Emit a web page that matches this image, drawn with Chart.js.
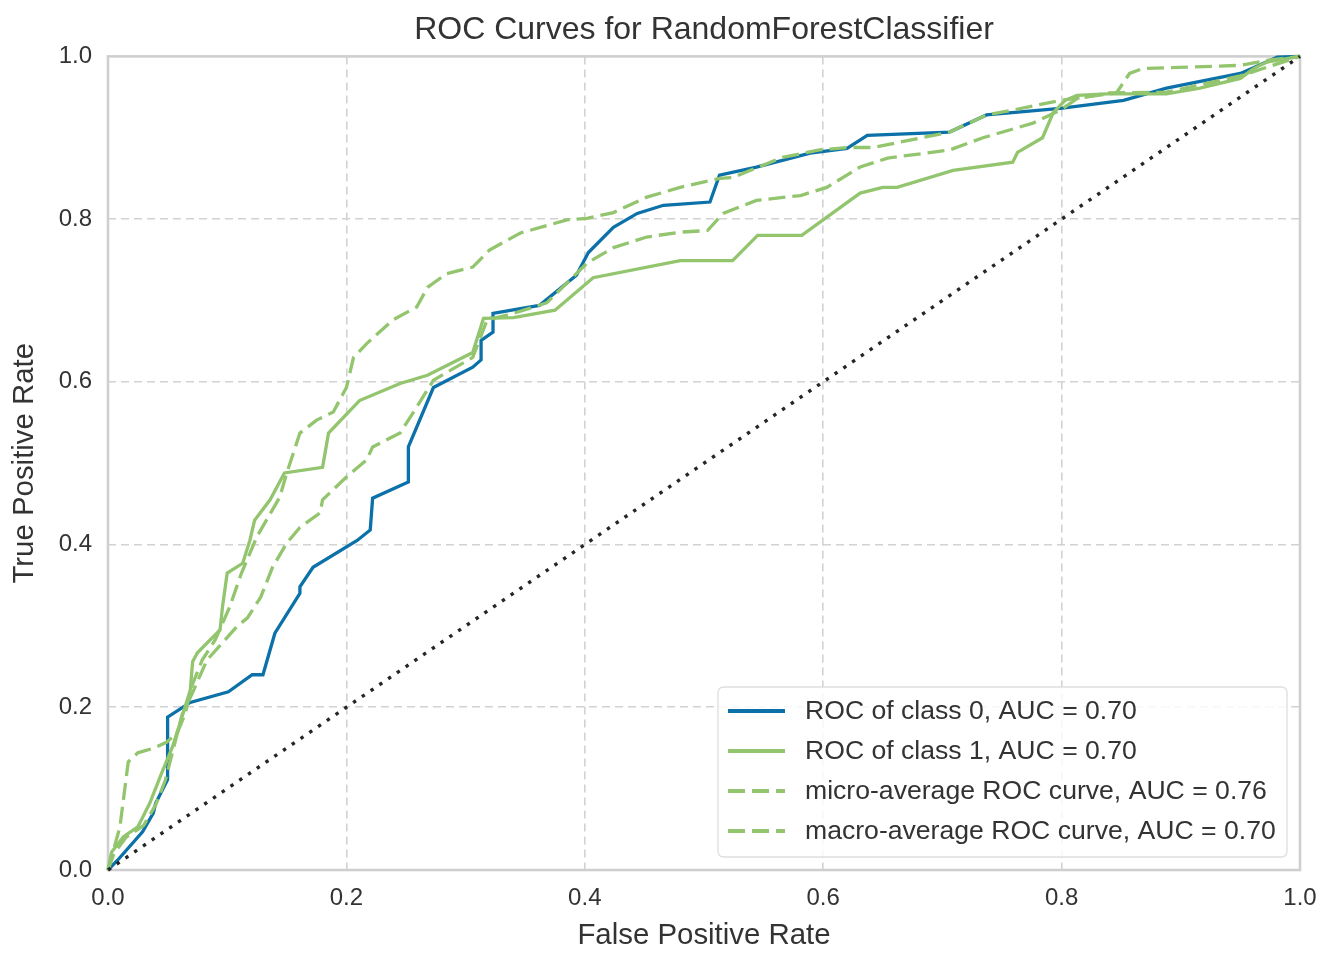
<!DOCTYPE html>
<html>
<head>
<meta charset="utf-8">
<title>ROC Curves for RandomForestClassifier</title>
<script src="https://cdn.jsdelivr.net/npm/chart.js@4/dist/chart.umd.min.js"></script>
<style>
  html, body { margin: 0; padding: 0; background: #ffffff; }
  #wrap { width: 1339px; height: 954px; }
</style>
</head>
<body>
<div id="wrap"><canvas id="roc" width="1339" height="954"></canvas></div>
<script>
// ---- data -------------------------------------------------------------
const titleText = 'ROC Curves for RandomForestClassifier';
const xAxisLabel = 'False Positive Rate';
const yAxisLabel = 'True Positive Rate';
const xTickLabels = ['0.0', '0.2', '0.4', '0.6', '0.8', '1.0'];
const yTickLabels = ['0.0', '0.2', '0.4', '0.6', '0.8', '1.0'];

const seriesLabels = [
  'ROC of class 0, AUC = 0.70',
  'ROC of class 1, AUC = 0.70',
  'micro-average ROC curve, AUC = 0.76',
  'macro-average ROC curve, AUC = 0.70'
];

const class0Fpr = [0, 0.008, 0.029, 0.038, 0.040, 0.050, 0.050, 0.069, 0.101, 0.121, 0.130, 0.140, 0.161, 0.161, 0.172, 0.209, 0.220, 0.222, 0.252, 0.252, 0.273, 0.306, 0.313, 0.313, 0.323, 0.323, 0.346, 0.362, 0.393, 0.403, 0.424, 0.444, 0.466, 0.505, 0.513, 0.544, 0.589, 0.620, 0.637, 0.706, 0.737, 0.799, 0.852, 0.888, 0.950, 0.981, 1];
const class0Tpr = [0, 0.012, 0.047, 0.070, 0.082, 0.111, 0.188, 0.206, 0.219, 0.240, 0.240, 0.291, 0.340, 0.348, 0.372, 0.405, 0.418, 0.457, 0.477, 0.520, 0.593, 0.618, 0.627, 0.651, 0.661, 0.684, 0.690, 0.694, 0.731, 0.759, 0.790, 0.807, 0.817, 0.821, 0.854, 0.864, 0.881, 0.887, 0.903, 0.907, 0.928, 0.936, 0.946, 0.961, 0.979, 0.999, 1];

const class1Fpr = [0, 0.003, 0.013, 0.025, 0.035, 0.045, 0.054, 0.062, 0.069, 0.071, 0.075, 0.094, 0.096, 0.100, 0.113, 0.119, 0.123, 0.136, 0.148, 0.180, 0.185, 0.211, 0.245, 0.268, 0.306, 0.315, 0.340, 0.375, 0.407, 0.480, 0.524, 0.545, 0.582, 0.631, 0.650, 0.662, 0.709, 0.759, 0.763, 0.784, 0.793, 0.803, 0.813, 0.838, 0.868, 0.888, 0.916, 0.950, 0.961, 0.972, 1];
const class1Tpr = [0, 0.022, 0.041, 0.053, 0.082, 0.119, 0.151, 0.188, 0.221, 0.256, 0.267, 0.295, 0.323, 0.365, 0.377, 0.405, 0.430, 0.455, 0.488, 0.495, 0.537, 0.577, 0.598, 0.608, 0.636, 0.678, 0.679, 0.688, 0.728, 0.749, 0.749, 0.780, 0.780, 0.832, 0.839, 0.839, 0.860, 0.870, 0.882, 0.900, 0.931, 0.946, 0.952, 0.954, 0.954, 0.954, 0.961, 0.973, 0.985, 0.993, 1];

const microFpr = [0, 0.003, 0.010, 0.017, 0.025, 0.039, 0.049, 0.058, 0.065, 0.070, 0.079, 0.090, 0.102, 0.112, 0.125, 0.144, 0.150, 0.161, 0.175, 0.189, 0.200, 0.206, 0.217, 0.239, 0.259, 0.268, 0.284, 0.306, 0.320, 0.346, 0.385, 0.402, 0.424, 0.452, 0.480, 0.513, 0.524, 0.566, 0.597, 0.620, 0.642, 0.706, 0.737, 0.759, 0.799, 0.846, 0.857, 0.868, 0.950, 0.972, 1];
const microTpr = [0, 0.016, 0.053, 0.133, 0.144, 0.150, 0.157, 0.168, 0.193, 0.225, 0.258, 0.283, 0.323, 0.365, 0.410, 0.458, 0.488, 0.537, 0.553, 0.563, 0.593, 0.630, 0.647, 0.676, 0.692, 0.716, 0.733, 0.741, 0.762, 0.783, 0.799, 0.801, 0.808, 0.827, 0.839, 0.850, 0.851, 0.876, 0.885, 0.888, 0.888, 0.907, 0.928, 0.934, 0.946, 0.955, 0.979, 0.985, 0.989, 0.995, 1];

const macroFpr = [0, 0.005, 0.015, 0.030, 0.040, 0.048, 0.055, 0.062, 0.070, 0.083, 0.108, 0.117, 0.128, 0.138, 0.150, 0.161, 0.178, 0.180, 0.200, 0.217, 0.222, 0.245, 0.259, 0.273, 0.306, 0.318, 0.340, 0.368, 0.402, 0.424, 0.452, 0.480, 0.503, 0.516, 0.544, 0.581, 0.603, 0.631, 0.654, 0.706, 0.734, 0.776, 0.799, 0.813, 0.838, 0.888, 0.950, 1];
const macroTpr = [0, 0.020, 0.040, 0.055, 0.080, 0.110, 0.150, 0.190, 0.215, 0.258, 0.299, 0.310, 0.335, 0.372, 0.402, 0.421, 0.439, 0.455, 0.483, 0.504, 0.520, 0.537, 0.569, 0.602, 0.630, 0.676, 0.684, 0.697, 0.746, 0.765, 0.778, 0.784, 0.786, 0.807, 0.823, 0.829, 0.839, 0.864, 0.875, 0.885, 0.900, 0.918, 0.934, 0.948, 0.955, 0.956, 0.976, 1];

const chanceFpr = [0, 1];
const chanceTpr = [0, 1];

// ---- styling ----------------------------------------------------------
const FONT = "'Liberation Sans', Arial, 'DejaVu Sans', sans-serif";
const TEXT = '#333333';
const BLUE = '#0b71a8';
const GREEN = '#92c56d';
const DASH = [17, 7];

Chart.defaults.font.family = FONT;
Chart.defaults.color = TEXT;

const toPoints = (xs, ys) => xs.map((x, i) => ({ x: x, y: ys[i] }));

function curve(label, xs, ys, color, dash, order) {
  return {
    label: label,
    data: toPoints(xs, ys),
    borderColor: color,
    backgroundColor: color,
    borderWidth: 3.3,
    borderDash: dash,
    showLine: true,
    pointRadius: 0,
    pointHoverRadius: 0,
    tension: 0,
    clip: false,
    order: order,
    inLegend: true
  };
}

const datasets = [
  curve(seriesLabels[0], class0Fpr, class0Tpr, BLUE, [], 4),
  curve(seriesLabels[1], class1Fpr, class1Tpr, GREEN, [], 3),
  curve(seriesLabels[2], microFpr, microTpr, GREEN, DASH, 2),
  curve(seriesLabels[3], macroFpr, macroTpr, GREEN, DASH, 1),
  {
    label: 'chance',
    data: toPoints(chanceFpr, chanceTpr),
    borderColor: '#262626',
    borderWidth: 3.4,
    borderDash: [3.4, 7.2],
    showLine: true,
    pointRadius: 0,
    clip: false,
    order: 0,
    inLegend: false
  }
];

// light frame around the plotting area, beneath the curves
const framePlugin = {
  id: 'plotFrame',
  beforeDatasetsDraw(chart) {
    const { ctx, chartArea: a } = chart;
    ctx.save();
    ctx.strokeStyle = '#cfcfcf';
    ctx.lineWidth = 2.6;
    ctx.setLineDash([]);
    ctx.strokeRect(a.left, a.top, a.right - a.left, a.bottom - a.top);
    ctx.restore();
  }
};

// legend box in the lower right corner of the plotting area
const cornerLegend = {
  id: 'cornerLegend',
  afterDraw(chart) {
    const { ctx, chartArea: a } = chart;
    const items = chart.data.datasets.filter(d => d.inLegend);
    const fontSize = 26.6;
    const rowH = 40;
    const sampleW = 57;
    const boxW = 569;
    const boxH = items.length * rowH + 10;
    const x0 = a.right - 13 - boxW;
    const y0 = a.bottom - 13 - boxH;
    ctx.save();
    // rounded, slightly translucent box
    const r = 6;
    ctx.beginPath();
    ctx.moveTo(x0 + r, y0);
    ctx.lineTo(x0 + boxW - r, y0);
    ctx.quadraticCurveTo(x0 + boxW, y0, x0 + boxW, y0 + r);
    ctx.lineTo(x0 + boxW, y0 + boxH - r);
    ctx.quadraticCurveTo(x0 + boxW, y0 + boxH, x0 + boxW - r, y0 + boxH);
    ctx.lineTo(x0 + r, y0 + boxH);
    ctx.quadraticCurveTo(x0, y0 + boxH, x0, y0 + boxH - r);
    ctx.lineTo(x0, y0 + r);
    ctx.quadraticCurveTo(x0, y0, x0 + r, y0);
    ctx.closePath();
    ctx.fillStyle = 'rgba(255,255,255,0.82)';
    ctx.fill();
    ctx.strokeStyle = '#dedede';
    ctx.lineWidth = 1.3;
    ctx.stroke();

    ctx.font = fontSize + 'px ' + FONT;
    ctx.textBaseline = 'middle';
    ctx.textAlign = 'left';
    items.forEach((d, i) => {
      const cy = y0 + 24 + i * rowH;
      ctx.beginPath();
      ctx.setLineDash(d.borderDash || []);
      ctx.strokeStyle = d.borderColor;
      ctx.lineWidth = 3.8;
      ctx.moveTo(x0 + 10, cy);
      ctx.lineTo(x0 + 10 + sampleW, cy);
      ctx.stroke();
      ctx.setLineDash([]);
      ctx.fillStyle = TEXT;
      ctx.fillText(d.label, x0 + 87, cy + 1);
    });
    ctx.restore();
  }
};

const interiorGrid = (ctx) => {
  const v = ctx.tick ? ctx.tick.value : null;
  return (v === 0 || v === 1) ? 'rgba(0,0,0,0)' : '#d2d2d2';
};

new Chart(document.getElementById('roc'), {
  type: 'scatter',
  data: { datasets: datasets },
  plugins: [framePlugin, cornerLegend],
  options: {
    responsive: false,
    animation: false,
    devicePixelRatio: 1,
    layout: { padding: { left: 0, right: 39, top: 0, bottom: 0 } },
    plugins: {
      legend: { display: false },
      tooltip: { enabled: false },
      title: {
        display: true,
        text: titleText,
        fullSize: false,
        color: TEXT,
        font: { family: FONT, size: 32, weight: 'normal' },
        padding: { top: 11, bottom: 7 }
      }
    },
    scales: {
      x: {
        type: 'linear',
        min: 0,
        max: 1,
        ticks: {
          stepSize: 0.2,
          autoSkip: false,
          maxRotation: 0,
          padding: 14,
          color: TEXT,
          font: { family: FONT, size: 24 },
          callback: (v, i) => xTickLabels[i]
        },
        grid: { color: interiorGrid, lineWidth: 1.6, drawTicks: false },
        border: { display: false, dash: [8, 5] },
        title: {
          display: true,
          text: xAxisLabel,
          color: TEXT,
          font: { family: FONT, size: 29.4 },
          padding: { top: 0, bottom: 0 }
        },
        afterFit: (s) => { s.height = 84; }
      },
      y: {
        type: 'linear',
        min: 0,
        max: 1,
        ticks: {
          stepSize: 0.2,
          autoSkip: false,
          padding: 16,
          color: TEXT,
          font: { family: FONT, size: 24 },
          callback: (v, i) => yTickLabels[i]
        },
        grid: { color: interiorGrid, lineWidth: 1.6, drawTicks: false },
        border: { display: false, dash: [8, 5] },
        title: {
          display: true,
          text: yAxisLabel,
          color: TEXT,
          font: { family: FONT, size: 29.4 },
          padding: { top: 7, bottom: 0 }
        },
        afterFit: (s) => { s.width = 108; }
      }
    }
  }
});
</script>
</body>
</html>
